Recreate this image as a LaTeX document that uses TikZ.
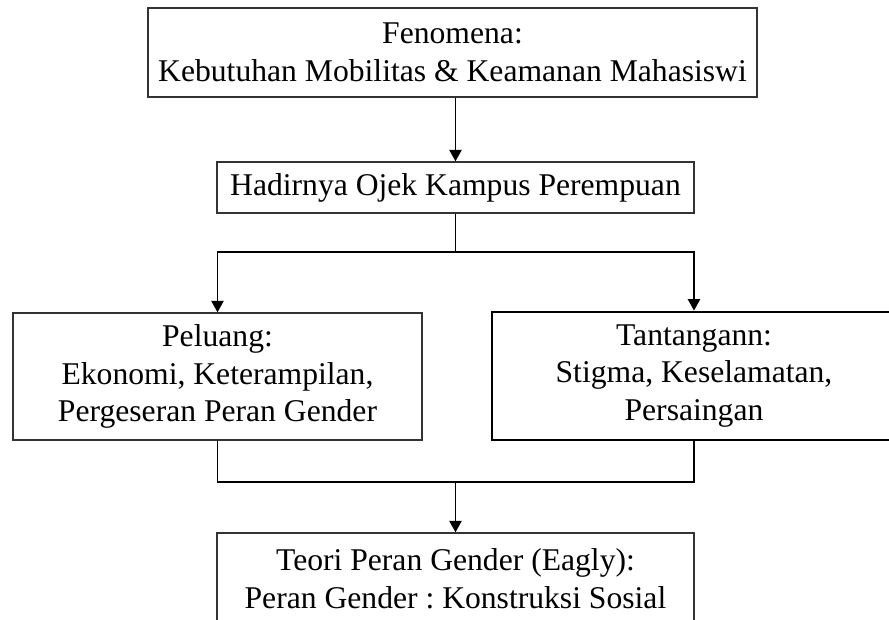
\documentclass[tikz,border=0pt]{standalone}
\usepackage{fontspec}
\setmainfont{Liberation Serif}
\frenchspacing
\usetikzlibrary{arrows.meta,positioning,calc}

\begin{document}
\begin{tikzpicture}[
  box/.style={draw=black!80, line width=0.8pt, align=center, inner sep=0pt,
    font=\fontsize{18}{21.5}\selectfont},
  boldbox/.style={box, draw=black, line width=1.6pt},
  arrow/.style={-{Triangle[width=7pt, length=6.5pt]}, line width=0.8pt},
  link/.style={line width=0.8pt}
]
  \clip (0, 0) rectangle (17.78, 12.38);

  % Boxes
  \node[box, minimum width=12.18cm, minimum height=1.78cm] (fen) at (9.05, 11.33)
    {Fenomena:\\Kebutuhan Mobilitas \& Keamanan Mahasiswi};
  \node[box, minimum width=9.54cm, minimum height=1.02cm] (hadir) at (9.11, 8.63)
    {Hadirnya Ojek Kampus Perempuan};
  \node[box, minimum width=8.18cm, minimum height=2.54cm] (peluang) at (4.35, 4.85)
    {Peluang:\\Ekonomi, Keterampilan,\\Pergeseran Peran Gender};
  \node[boldbox, minimum width=8.08cm, minimum height=2.56cm] (tantangan) at (13.88, 4.86)
    {Tantangann:\\Stigma, Keselamatan,\\Persaingan};
  \node[box, minimum width=9.54cm, minimum height=1.84cm] (teori) at (9.11, 0.80)
    {Teori Peran Gender (Eagly):\\Peran Gender : Konstruksi Sosial};

  % Branch points
  \coordinate (split) at (9.11, 7.34);
  \coordinate (merge) at (9.11, 2.74);

  % Connectors
  \draw[arrow] (hadir.north |- fen.south) -- (hadir.north);
  \draw[link] (hadir.south) -- (split);
  \draw[arrow] (split) -| (peluang.north);
  \draw[arrow] (split) -| (tantangan.north);
  \draw[link] (peluang.south) |- (merge);
  \draw[link] (tantangan.south) |- (merge);
  \draw[arrow] (merge) -- (teori.north);
\end{tikzpicture}
\end{document}
